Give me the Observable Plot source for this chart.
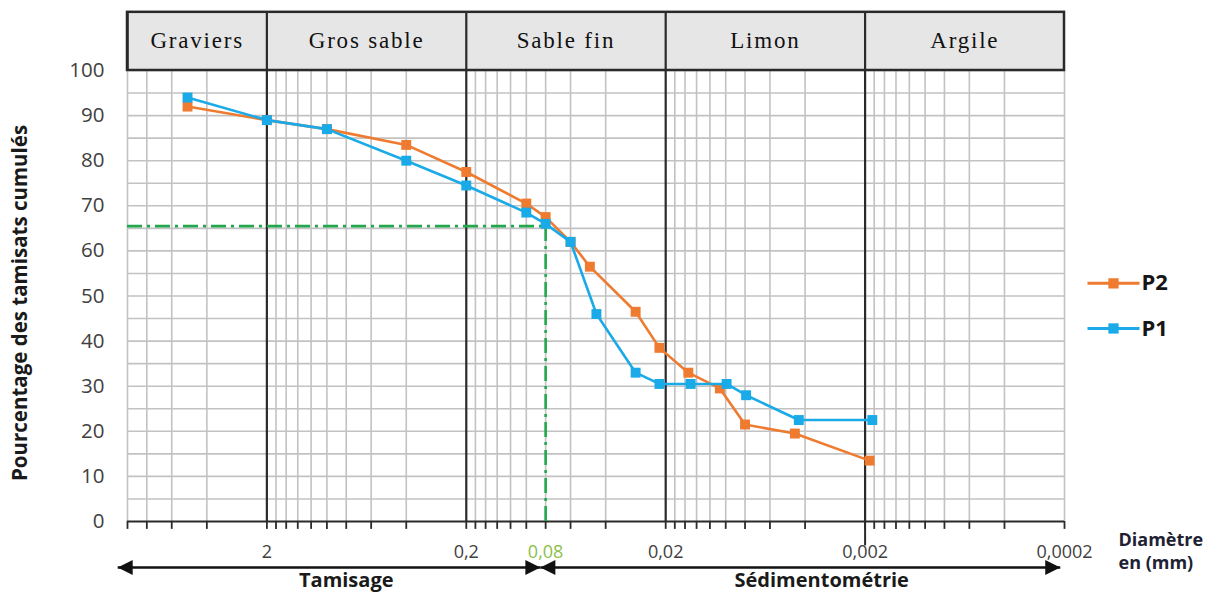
<!DOCTYPE html>
<html>
<head>
<meta charset="utf-8">
<script src="https://cdn.jsdelivr.net/npm/d3@7"></script>
<script src="https://cdn.jsdelivr.net/npm/@observablehq/plot@0.6"></script>
<style>
  body { margin: 0; background: #fff; }
  #chart svg { display: block; }
</style>
</head>
<body>
<div id="chart"></div>
<script>
// ---------------- Data ----------------
const seriesNames = ["P2", "P1"];
const diamP2 = [5, 2, 1, 0.4, 0.2, 0.1, 0.08, 0.06, 0.048, 0.0283, 0.0215, 0.0154, 0.0107, 0.008, 0.0045, 0.0019];
const passP2 = [92, 89, 87, 83.5, 77.5, 70.5, 67.5, 62, 56.5, 46.5, 38.5, 33, 29.5, 21.5, 19.5, 13.5];
const diamP1 = [5, 2, 1, 0.4, 0.2, 0.1, 0.08, 0.06, 0.0445, 0.0283, 0.0215, 0.015, 0.0099, 0.0079, 0.0043, 0.00184];
const passP1 = [94, 89, 87, 80, 74.5, 68.5, 66, 62, 46, 33, 30.5, 30.5, 30.5, 28, 22.5, 22.5];

const classNames = ["Graviers", "Gros sable", "Sable fin", "Limon", "Argile"];
const classBounds = [10, 2, 0.2, 0.02, 0.002, 0.0002];
const majorBounds = [2, 0.2, 0.02, 0.002];

const xTickValues = [2, 0.2, 0.08, 0.02, 0.002, 0.0002];
const xTickLabels = ["2", "0,2", "0,08", "0,02", "0,002", "0,0002"];
const yTickValues = [0, 10, 20, 30, 40, 50, 60, 70, 80, 90, 100];

const cutDiameter = [0.08];
const cutPercent = [65.5];

const methodNames = ["Tamisage", "Sédimentométrie"];
const methodBounds = [11.2, 0.085, 0.00021];
const methodLabelAt = [0.8, 0.0033];

const yTitle = "Pourcentage des tamisats cumulés";
const xTitleLines = ["Diamètre", "en (mm)"];

// ---------------- Styling / layout constants ----------------
const ORANGE = "#ee7b30", BLUE = "#1aaae8", GREEN = "#22a84c", LABEL_GREEN = "#8cc04a";
const GRID = "#c2c2c2", DARK = "#2a2a2a";
const HEADER_TOP = 112.9;     // header band above the 0–100 frame (y units)
const ARROW_Y = -10.2;        // arrow row under the axis (y units)

// ---------------- Derived tables ----------------
const points = [
  ...diamP2.map((d, i) => ({series: "P2", d, p: passP2[i]})),
  ...diamP1.map((d, i) => ({series: "P1", d, p: passP1[i]}))
];
const cells = classNames.map((name, i) => ({
  name, from: classBounds[i], to: classBounds[i + 1],
  mid: Math.sqrt(classBounds[i] * classBounds[i + 1])
}));
const minorX = [];
for (const b of [2, 0.2, 0.02, 0.002, 0.0002]) {
  for (let m = 2; m <= 9; m++) {
    const v = +(b * m).toPrecision(3);
    if (v <= 10) minorX.push(v);
  }
}
const gridX = [...minorX, 0.0002];
const tickX = [...minorX, ...majorBounds, 0.0002];
const gridY = d3.range(5, 101, 5);
const arrows = methodNames.map((name, i) => ({name, from: methodBounds[i], to: methodBounds[i + 1], at: methodLabelAt[i]}));
const legendItems = [{series: "P2", ly: 52.8}, {series: "P1", ly: 42.8}];

// custom symbols
const triRight = {draw(ctx) { ctx.moveTo(0, 0); ctx.lineTo(-15, -7.5); ctx.lineTo(-15, 7.5); ctx.closePath(); }};
const triLeft  = {draw(ctx) { ctx.moveTo(0, 0); ctx.lineTo(15, -7.5); ctx.lineTo(15, 7.5); ctx.closePath(); }};
const legendLine = {draw(ctx) { ctx.moveTo(-26, 0); ctx.lineTo(26, 0); }};

const sans = "'Open Sans', 'DejaVu Sans', sans-serif";

const chart = Plot.plot({
  width: 1221,
  height: 595,
  marginLeft: 127,
  marginRight: 157,
  marginTop: 70,
  marginBottom: 74,
  style: {background: "white", fontFamily: sans, overflow: "visible"},
  x: {type: "log", domain: [10, 0.0002], axis: null},
  y: {domain: [0, 100], axis: null},
  color: {domain: seriesNames, range: [ORANGE, BLUE]},
  marks: [
    // header band background
    Plot.rect(cells, {x1: "from", x2: "to", y1: 100, y2: HEADER_TOP, fill: "#e6e6e6"}),
    // grid
    Plot.ruleY(gridY, {stroke: GRID, strokeWidth: 1.6}),
    Plot.ruleX(gridX, {stroke: GRID, strokeWidth: 1.6}),
    // major class boundaries
    Plot.ruleX(majorBounds, {y1: 0, y2: HEADER_TOP, stroke: DARK, strokeWidth: 2.2}),
    Plot.ruleX([0.002], {y1: -5.4, y2: 0, stroke: DARK, strokeWidth: 2}),
    // header frame
    Plot.rect([cells[0]], {x1: classBounds[0], x2: classBounds[classBounds.length - 1], y1: 100, y2: HEADER_TOP, fill: "none", stroke: DARK, strokeWidth: 2.5}),
    Plot.ruleX([10], {y1: 100, y2: HEADER_TOP, stroke: DARK, strokeWidth: 2.5}),
    // header labels
    Plot.text(cells, {x: "mid", y: (100 + HEADER_TOP) / 2 + 0.2, text: "name", fontFamily: "'Liberation Serif', 'Times New Roman', serif", fontSize: 23, fill: "#111"}),
    // bottom axis line and ticks
    Plot.ruleY([0], {stroke: DARK, strokeWidth: 2}),
    Plot.ruleX(tickX, {y1: 0, y2: -1.75, stroke: DARK, strokeWidth: 1.8}),
    // green reading lines
    Plot.ruleY(cutPercent, {x1: 10, x2: cutDiameter[0], stroke: GREEN, strokeWidth: 2.6, strokeDasharray: "15,5,3,5"}),
    Plot.ruleX(cutDiameter, {y1: 0, y2: cutPercent[0], stroke: GREEN, strokeWidth: 2.6, strokeDasharray: "15,5,3,5"}),
    // series P2 then P1
    Plot.line(points.filter(d => d.series === "P2"), {x: "d", y: "p", stroke: "series", strokeWidth: 2.6}),
    Plot.dot(points.filter(d => d.series === "P2"), {x: "d", y: "p", fill: "series", symbol: "square", r: 5.6}),
    Plot.line(points.filter(d => d.series === "P1"), {x: "d", y: "p", stroke: "series", strokeWidth: 2.6}),
    Plot.dot(points.filter(d => d.series === "P1"), {x: "d", y: "p", fill: "series", symbol: "square", r: 5.6}),
    // y tick labels
    Plot.text(yTickValues, {x: 10, y: d => d, dx: -23, textAnchor: "end", fontSize: 20.5, fill: "#404040"}),
    // x tick labels
    Plot.text(xTickValues, {x: d => d, y: 0, dy: 31, text: (d, i) => xTickLabels[i], fontSize: 18, fill: (d) => d === cutDiameter[0] ? LABEL_GREEN : "#404040"}),
    // method arrows
    Plot.link(arrows, {x1: "from", x2: "to", y1: ARROW_Y, y2: ARROW_Y, stroke: "#111", strokeWidth: 2.6}),
    Plot.dot(arrows, {x: "from", y: ARROW_Y, symbol: triLeft, fill: "#111", stroke: "none"}),
    Plot.dot(arrows, {x: "to", y: ARROW_Y, symbol: triRight, fill: "#111", stroke: "none"}),
    Plot.text(arrows, {x: "at", y: ARROW_Y, dy: 13, text: "name", fontSize: 20, fontWeight: "bold", fill: "#1a1a1a"}),
    // axis titles
    Plot.text([yTitle], {frameAnchor: "left", dx: -107, dy: 7, rotate: -90, textAnchor: "middle", fontSize: 20.5, fontWeight: "bold", fill: "#1a1a1a"}),
    Plot.text([xTitleLines[0]], {frameAnchor: "bottom-right", dx: 54, dy: 24, textAnchor: "start", fontSize: 18, fontWeight: "bold", fill: "#1e2233"}),
    Plot.text([xTitleLines[1]], {frameAnchor: "bottom-right", dx: 54, dy: 47, textAnchor: "start", fontSize: 18, fontWeight: "bold", fill: "#1e2233"}),
    // legend
    Plot.dot(legendItems, {y: "ly", frameAnchor: "right", dx: 49, symbol: legendLine, stroke: "series", fill: "none", strokeWidth: 3}),
    Plot.dot(legendItems, {y: "ly", frameAnchor: "right", dx: 49, symbol: "square", fill: "series", r: 5.8}),
    Plot.text(legendItems, {y: "ly", frameAnchor: "right", dx: 77, text: "series", textAnchor: "start", fontSize: 22, fontWeight: "bold", fill: "#161616"})
  ]
});

document.getElementById("chart").appendChild(chart);
// widen the serif header labels a little, like the reference
d3.select(chart).selectAll("text").filter(function () { return classNames.includes(this.textContent); })
  .attr("letter-spacing", "1.8px");
</script>
</body>
</html>
